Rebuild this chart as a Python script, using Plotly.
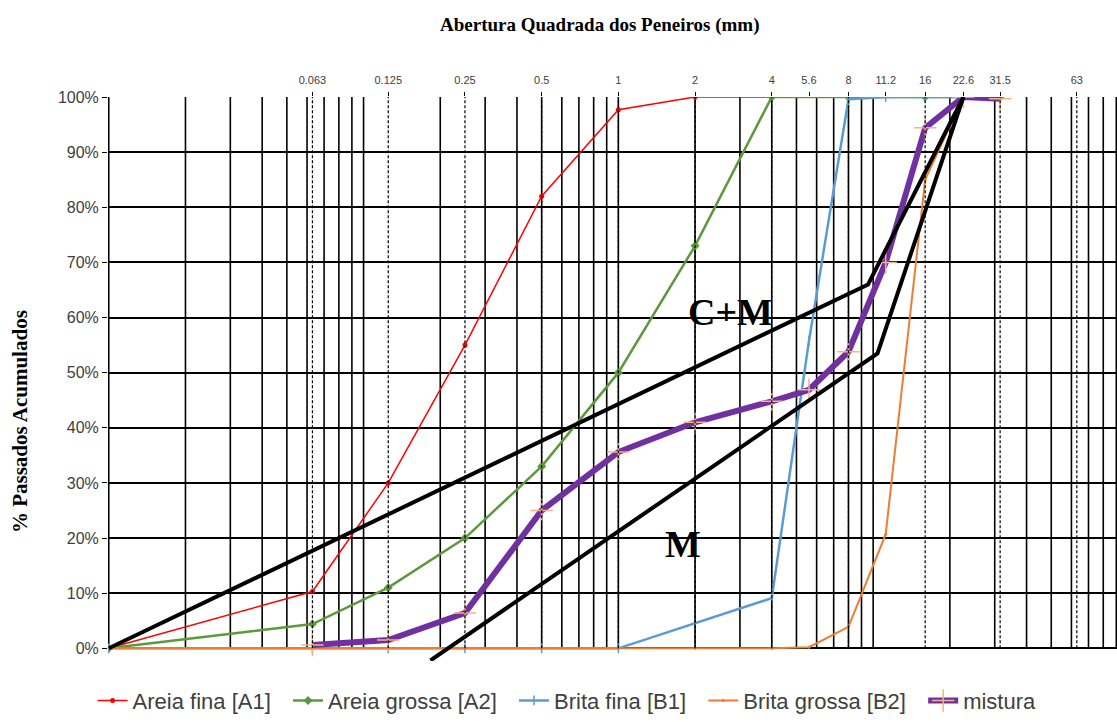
import numpy as np
import plotly.graph_objects as go

# ---------------- data ----------------
sieve_labels = ["0.063", "0.125", "0.25", "0.5", "1", "2", "4", "5.6", "8", "11.2", "16", "22.6", "31.5", "63"]
sieve_sizes = [0.063, 0.125, 0.25, 0.5, 1, 2, 4, 5.6, 8, 11.2, 16, 22.6, 31.5, 63]
dashed_sieves = [0.063, 0.125, 0.25, 0.5, 1, 2, 4, 8, 16, 31.5, 63]

a1_x = [0.01, 0.063, 0.125, 0.25, 0.5, 1, 2, 4]
a1_y = [0, 10.3, 30, 55, 82, 97.7, 100, 100]

a2_x = [0.01, 0.063, 0.125, 0.25, 0.5, 1, 2, 4, 8, 16, 31.5]
a2_y = [0, 4.4, 11, 20, 33, 50, 73, 100, 100, 100, 100]

b1_x = [0.01, 0.063, 0.125, 0.25, 0.5, 1, 4, 5.6, 8, 11.2, 16, 22.6]
b1_y = [0, 0, 0, 0, 0, 0, 9.1, 55.8, 99.6, 100, 100, 100]

b2_x = [0.01, 0.063, 0.125, 0.25, 0.5, 1, 2, 4, 5.6, 8, 11.2, 16, 22.6, 31.5]
b2_y = [0, 0, 0, 0, 0, 0, 0, 0, 0.2, 3.9, 20.7, 85, 100, 100]

mix_x = [0.063, 0.125, 0.25, 0.5, 1, 2, 4, 5.6, 8, 11.2, 16, 22.6, 31.5]
mix_y = [0.6, 1.5, 6.4, 25, 35.6, 41, 44.8, 46.9, 53.8, 70, 94.4, 100, 99.7]

cm_x = [0.01, 9.55, 22.6]
cm_y = [0, 66, 100]

m_x = [0.183, 10.4, 22.6]
m_y = [-2.2, 53.5, 100]

series_names = ["Areia fina [A1]", "Areia grossa [A2]", "Brita fina [B1]", "Brita grossa [B2]", "mistura"]

y_ticks = list(range(0, 101, 10))
y_ticklabels = [f"{v}%" for v in y_ticks]

# log grid values 0.01 .. 90
grid_vals = [m * 10.0 ** e for e in range(-2, 2) for m in range(1, 10)]

PAD = "\u00a0\u00a0"

def legend_name(i):
    return series_names[i] + (PAD if i < len(series_names) - 1 else "")

# ---------------- figure ----------------
fig = go.Figure()

# vertical solid grid
gx, gy = [], []
for v in grid_vals:
    gx += [v, v, None]
    gy += [0, 100, None]
fig.add_trace(go.Scatter(x=gx, y=gy, mode="lines", line=dict(color="black", width=1.6),
                         hoverinfo="skip", showlegend=False))

# dashed sieve lines (top axis)
dx, dy = [], []
for v in dashed_sieves:
    dx += [v, v, None]
    dy += [0, 100, None]
fig.add_trace(go.Scatter(x=dx, y=dy, mode="lines", xaxis="x2",
                         line=dict(color="black", width=1.2, dash="3px,2px"),
                         hoverinfo="skip", showlegend=False))

fig.add_trace(go.Scatter(x=a1_x, y=a1_y, name=legend_name(0), mode="lines+markers",
                         line=dict(color="#FF0000", width=1.5),
                         marker=dict(symbol="circle", size=5, color="#FF0000")))
fig.add_trace(go.Scatter(x=a2_x, y=a2_y, name=legend_name(1), mode="lines+markers",
                         line=dict(color="#5B9A3C", width=2.5),
                         marker=dict(symbol="diamond", size=7, color="#5B9A3C")))
fig.add_trace(go.Scatter(x=b1_x, y=b1_y, name=legend_name(2), mode="lines+markers",
                         line=dict(color="#5B9BD5", width=2.5),
                         marker=dict(symbol="line-ns-open", size=7, color="#5B9BD5",
                                     line=dict(color="#5B9BD5", width=1.5))))
fig.add_trace(go.Scatter(x=b2_x, y=b2_y, name=legend_name(3), mode="lines+markers",
                         line=dict(color="#ED7D31", width=2),
                         marker=dict(symbol="circle", size=3, color="#ED7D31")))
fig.add_trace(go.Scatter(x=mix_x, y=mix_y, name=legend_name(4), mode="lines+markers",
                         line=dict(color="#7030A0", width=6),
                         marker=dict(symbol="cross-thin-open", size=16, color="#F4B183",
                                     line=dict(color="#F4B183", width=1.5))))

fig.add_trace(go.Scatter(x=cm_x, y=cm_y, mode="lines", line=dict(color="black", width=4),
                         hoverinfo="skip", showlegend=False))
fig.add_trace(go.Scatter(x=m_x, y=m_y, mode="lines", line=dict(color="black", width=4),
                         hoverinfo="skip", showlegend=False))

xr = [-2.003, 1.957]
fig.update_layout(
    width=1117, height=722,
    margin=dict(l=108, r=0, t=97, b=61),
    paper_bgcolor="white", plot_bgcolor="white",
    font=dict(family="Liberation Sans", color="#404040"),
    xaxis=dict(type="log", range=xr, showgrid=False, showticklabels=False, ticks="",
               zeroline=False, showline=False),
    xaxis2=dict(type="log", range=xr, overlaying="x", side="top", anchor="y",
                tickmode="array", tickvals=sieve_sizes, ticktext=sieve_labels,
                ticks="outside", ticklen=4, tickcolor="black", tickwidth=1,
                tickfont=dict(size=11, color="#404040"), showgrid=False,
                zeroline=False, showline=False, ticklabelstandoff=4),
    yaxis=dict(range=[-2.3, 100], tickmode="array", tickvals=y_ticks, ticktext=y_ticklabels,
               showgrid=True, gridcolor="black", gridwidth=1.5, zeroline=False,
               ticks="outside", ticklen=5, tickcolor="black",
               tickfont=dict(size=16, color="#404040"), showline=False),
    legend=dict(orientation="h", x=0.455, xanchor="center", y=-0.1075, yanchor="bottom",
                font=dict(size=22, color="#404040", family="Liberation Sans"),
                bgcolor="rgba(0,0,0,0)", borderwidth=0),
    showlegend=True,
    annotations=[
        dict(text="<b>Abertura Quadrada dos Peneiros (mm)</b>", xref="paper", yref="paper",
             x=0.4876, y=1.128, xanchor="center", yanchor="middle", showarrow=False,
             font=dict(family="Liberation Serif", size=19, color="black")),
        dict(text="<b>% Passados Acumulados</b>", xref="paper", yref="paper",
             x=-0.087, y=0.424, xanchor="center", yanchor="middle", textangle=-90,
             showarrow=False, font=dict(family="Liberation Serif", size=21, color="black")),
        dict(text="<b>C+M</b>", xref="x", yref="y", x=np.log10(2.75), y=61,
             showarrow=False, font=dict(family="Liberation Serif", size=38, color="black")),
        dict(text="<b>M</b>", xref="x", yref="y", x=np.log10(1.8), y=19,
             showarrow=False, font=dict(family="Liberation Serif", size=38, color="black")),
    ],
)

fig.write_html("out.html")
